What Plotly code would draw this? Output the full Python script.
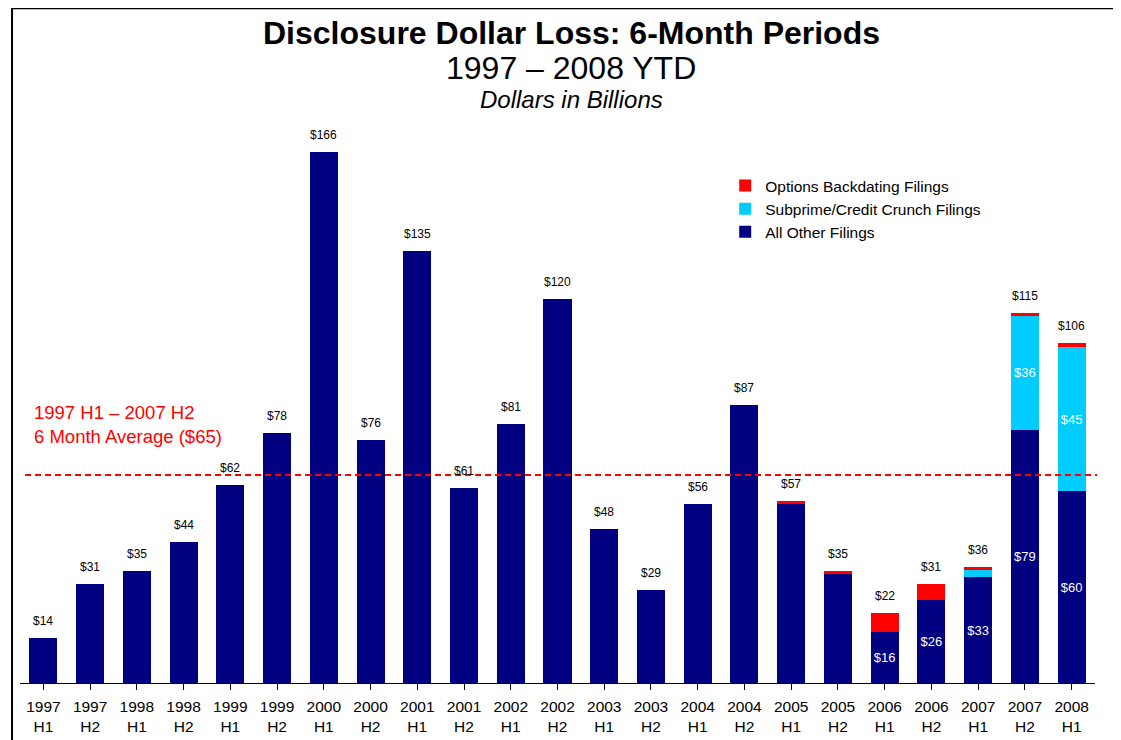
import plotly.graph_objects as go

periods = ["1997<br>H1", "1997<br>H2", "1998<br>H1", "1998<br>H2", "1999<br>H1", "1999<br>H2",
           "2000<br>H1", "2000<br>H2", "2001<br>H1", "2001<br>H2", "2002<br>H1", "2002<br>H2",
           "2003<br>H1", "2003<br>H2", "2004<br>H1", "2004<br>H2", "2005<br>H1", "2005<br>H2",
           "2006<br>H1", "2006<br>H2", "2007<br>H1", "2007<br>H2", "2008<br>H1"]
all_other = [14, 31, 35, 44, 62, 78, 166, 76, 135, 61, 81, 120, 48, 29, 56, 87, 56, 34, 16, 26, 33, 79, 60]
subprime = [0, 0, 0, 0, 0, 0, 0, 0, 0, 0, 0, 0, 0, 0, 0, 0, 0, 0, 0, 0, 2.4, 36, 45]
options = [0, 0, 0, 0, 0, 0, 0, 0, 0, 0, 0, 0, 0, 0, 0, 0, 1, 1, 6, 5, 0.9, 0.6, 1.4]
totals = [14, 31, 35, 44, 62, 78, 166, 76, 135, 61, 81, 120, 48, 29, 56, 87, 57, 35, 22, 31, 36, 115, 106]
inside_other_labels = {18: "$16", 19: "$26", 20: "$33", 21: "$79", 22: "$60"}
inside_sub_labels = {21: "$36", 22: "$45"}
average = 65

FONT = "Liberation Sans, Arial, sans-serif"
NAVY = "#000080"
CYAN = "#00CCFF"
RED = "#FF0000"

x = list(range(len(periods)))

fig = go.Figure()
fig.add_trace(go.Bar(
    x=x, y=all_other, name="All Other Filings", marker_color=NAVY, marker_line_width=0,
    legendgroup="c", legendrank=3, text=[inside_other_labels.get(i, "") for i in x],
    textposition="inside", insidetextanchor="middle",
    textfont=dict(color="white", size=13, family=FONT), hoverinfo="skip"))
fig.add_trace(go.Bar(
    x=x, y=subprime, name="Subprime/Credit Crunch Filings", marker_color=CYAN, marker_line_width=0,
    legendgroup="b", legendrank=2, text=[inside_sub_labels.get(i, "") for i in x],
    textposition="inside", insidetextanchor="middle",
    textfont=dict(color="white", size=13, family=FONT), hoverinfo="skip"))
fig.add_trace(go.Bar(
    x=x, y=options, name="Options Backdating Filings", marker_color=RED, marker_line_width=0,
    legendgroup="a", legendrank=1, hoverinfo="skip"))

for i, t in enumerate(totals):
    fig.add_annotation(x=i, y=max(t, all_other[i] + subprime[i] + options[i]),
                       text=f"${t}", showarrow=False, yanchor="bottom", yshift=8,
                       font=dict(size=12, family=FONT, color="black"))

# average line
fig.add_shape(type="line", xref="paper", yref="y", x0=0.0047, x1=1.0019, y0=average, y1=average,
              line=dict(color=RED, width=2, dash="6px,4px"))
fig.add_annotation(xref="paper", yref="paper", x=0.0112, y=0.46, xanchor="left", yanchor="middle",
                   align="left", showarrow=False,
                   text=f"1997 H1 – 2007 H2<br>6 Month Average (${average})",
                   font=dict(size=18.5, family=FONT, color=RED))

# titles
fig.add_annotation(xref="paper", yref="paper", x=0.513, y=1.155, showarrow=False, yanchor="middle",
                   text="<b>Disclosure Dollar Loss: 6-Month Periods</b>",
                   font=dict(size=32, family=FONT, color="black"))
fig.add_annotation(xref="paper", yref="paper", x=0.513, y=1.092, showarrow=False, yanchor="middle",
                   text="1997 – 2008 YTD", font=dict(size=32, family=FONT, color="black"))
fig.add_annotation(xref="paper", yref="paper", x=0.513, y=1.037, showarrow=False, yanchor="middle",
                   text="<i>Dollars in Billions</i>", font=dict(size=24, family=FONT, color="black"))

# frame
fig.add_shape(type="rect", xref="paper", yref="paper", x0=-0.0074, x1=1.0214, y0=-0.2, y1=1.1985,
              line=dict(color="black", width=2))

fig.update_layout(
    width=1113, height=732,
    margin=dict(l=12, r=26, t=112, b=57),
    barmode="stack", bargap=0.4,
    plot_bgcolor="white", paper_bgcolor="white",
    font=dict(family=FONT, color="black"),
    showlegend=True,
    legend=dict(x=0.656, y=0.913, xanchor="left", yanchor="top", traceorder="normal",
                tracegroupgap=8, font=dict(size=15.5, family=FONT), bgcolor="rgba(0,0,0,0)"),
    xaxis=dict(tickmode="array", tickvals=x, ticktext=periods, range=[-0.5, len(periods) - 0.5],
               showline=True, linecolor="black", linewidth=1, ticks="outside", tickson="boundaries",
               ticklen=6, tickcolor="black", showgrid=False, zeroline=False, ticklabelstandoff=3,
               automargin=False, tickfont=dict(size=15.5, family=FONT, color="black")),
    yaxis=dict(range=[0, 176], visible=False, showgrid=False, zeroline=False, automargin=False),
    uniformtext=dict(minsize=13, mode="show"),
)

fig.write_html("out.html")
